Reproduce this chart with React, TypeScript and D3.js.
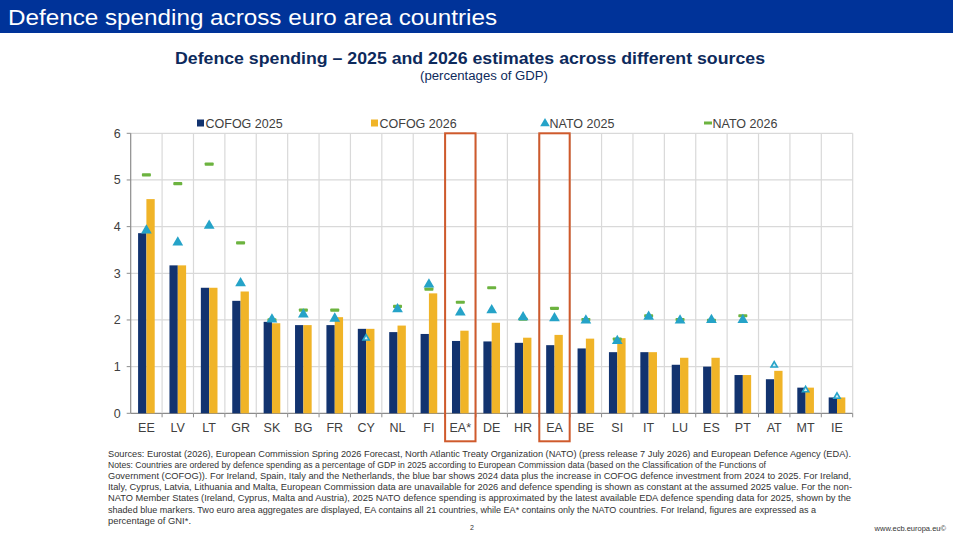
import * as d3 from "d3";
import { useEffect, useRef } from "react";

const countries = ["EE", "LV", "LT", "GR", "SK", "BG", "FR", "CY", "NL", "FI", "EA*", "DE", "HR", "EA", "BE", "SI", "IT", "LU", "ES", "PT", "AT", "MT", "IE"];
const cofog2025 = [3.86, 3.17, 2.69, 2.41, 1.96, 1.89, 1.89, 1.81, 1.74, 1.7, 1.55, 1.54, 1.51, 1.46, 1.39, 1.31, 1.31, 1.04, 1.0, 0.82, 0.73, 0.55, 0.34];
const cofog2026 = [4.59, 3.17, 2.69, 2.61, 1.93, 1.89, 2.06, 1.81, 1.88, 2.57, 1.77, 1.94, 1.62, 1.68, 1.6, 1.61, 1.31, 1.19, 1.19, 0.82, 0.91, 0.55, 0.34];
const nato2025 = [3.92, 3.66, 4.02, 2.79, 2.01, 2.12, 2.03, 1.61, 2.23, 2.76, 2.16, 2.21, 2.06, 2.04, 1.99, 1.55, 2.07, 1.99, 2.0, 2.0, 1.03, 0.5, 0.36];
const nato2026: (number | null)[] = [5.11, 4.92, 5.34, 3.65, 2.0, 2.21, 2.21, null, 2.29, 2.66, 2.38, 2.69, 2.02, 2.25, 2.01, 1.59, 2.09, 2.01, 1.99, 2.09, null, null, null];
// non-NATO member states, EDA approximation shown with shaded markers
const edaProxy = ["CY", "AT", "MT", "IE"];
const highlighted = ["EA*", "EA"];
const yTicks = [0, 1, 2, 3, 4, 5, 6];

const legendItems = [
  { label: "COFOG 2025", kind: "bar25", x: 197 },
  { label: "COFOG 2026", kind: "bar26", x: 371 },
  { label: "NATO 2025", kind: "tri", x: 541 },
  { label: "NATO 2026", kind: "dash", x: 704 },
];

const notes = [
  { text: "Sources: Eurostat (2026), European Commission Spring 2026 Forecast, North Atlantic Treaty Organization (NATO) (press release 7 July 2026) and European Defence Agency (EDA).", w: 743 },
  { text: "Notes: Countries are ordered by defence spending as a percentage of GDP in 2025 according to European Commission data (based on the Classification of the Functions of", w: 658 },
  { text: "Government (COFOG)). For Ireland, Spain, Italy and the Netherlands, the blue bar shows 2024 data plus the increase in COFOG defence investment from 2024 to 2025. For Ireland,", w: 743 },
  { text: "Italy, Cyprus, Latvia, Lithuania and Malta, European Commission data are unavailable for 2026 and defence spending is shown as constant at the assumed 2025 value. For the non-", w: 744 },
  { text: "NATO Member States (Ireland, Cyprus, Malta and Austria), 2025 NATO defence spending is approximated by the latest available EDA defence spending data for 2025, shown by the", w: 743 },
  { text: "shaded blue markers. Two euro area aggregates are displayed, EA contains all 21 countries, while EA* contains only the NATO countries. For Ireland, figures are expressed as a", w: 708 },
  { text: "percentage of GNI*.", w: 83 },
];

const NAVY = "#12336f";
const GOLD = "#f0b428";
const CYAN = "#25a3c8";
const GREEN = "#6cb33f";
const FONT = "Arial, 'Liberation Sans', sans-serif";

export default function App() {
  const ref = useRef<SVGSVGElement | null>(null);
  useEffect(() => {
    if (!ref.current) return;
    const svg = d3.select(ref.current);
    svg.selectAll("*").remove();
    const W = 953;
    const H = 538;
    const left = 130.7;
    const right = 852.7;
    const top = 133.3;
    const bottom = 413.3;

    svg.append("rect").attr("width", W).attr("height", H).attr("fill", "#fff");
    // header band
    svg.append("rect").attr("width", W).attr("height", 33).attr("fill", "#003399");
    svg.append("text").attr("x", 8).attr("y", 25).attr("fill", "#fff").attr("font-size", 22).attr("font-family", FONT)
      .attr("textLength", 489).attr("lengthAdjust", "spacingAndGlyphs").text("Defence spending across euro area countries");

    svg.append("text").attr("x", 470).attr("y", 64).attr("text-anchor", "middle").attr("fill", "#0d2a5c").attr("font-size", 17)
      .attr("font-weight", "bold").attr("font-family", FONT).attr("textLength", 590).attr("lengthAdjust", "spacingAndGlyphs")
      .text("Defence spending – 2025 and 2026 estimates across different sources");
    svg.append("text").attr("x", 484).attr("y", 80).attr("text-anchor", "middle").attr("fill", "#0d2a5c").attr("font-size", 12)
      .attr("font-family", FONT).attr("textLength", 128).attr("lengthAdjust", "spacingAndGlyphs").text("(percentages of GDP)");

    const x = d3.scaleBand<string>().domain(countries).range([left, right]).padding(0);
    const y = d3.scaleLinear().domain([0, 6]).range([bottom, top]);
    const groupW = x.bandwidth() * 0.53;
    const inner = d3.scaleBand<string>().domain(["c25", "c26"]).range([0, groupW]);
    const off = (x.bandwidth() - groupW) / 2;

    const grid = svg.append("g");
    yTicks.forEach((t) => {
      grid.append("line").attr("x1", left).attr("x2", right).attr("y1", y(t)).attr("y2", y(t))
        .attr("stroke", t === 0 ? "#8c8c8c" : "#d9d9d9").attr("stroke-width", 1.2);
      grid.append("line").attr("x1", left - 4).attr("x2", left).attr("y1", y(t)).attr("y2", y(t)).attr("stroke", "#8c8c8c");
      grid.append("text").attr("x", left - 10).attr("y", y(t) + 4.5).attr("text-anchor", "end").attr("font-size", 12.5)
        .attr("font-family", FONT).attr("fill", "#404040").text(t);
    });
    countries.forEach((c) => {
      const bx = (x(c) ?? 0) + x.bandwidth();
      grid.append("line").attr("x1", bx).attr("x2", bx).attr("y1", top).attr("y2", bottom).attr("stroke", "#d9d9d9").attr("stroke-width", 1.2);
      grid.append("line").attr("x1", bx).attr("x2", bx).attr("y1", bottom).attr("y2", bottom + 4).attr("stroke", "#8c8c8c");
      grid.append("text").attr("x", (x(c) ?? 0) + x.bandwidth() / 2).attr("y", bottom + 19).attr("text-anchor", "middle")
        .attr("font-size", 12.5).attr("font-family", FONT).attr("fill", "#404040").text(c);
    });
    grid.append("line").attr("x1", left).attr("x2", left).attr("y1", top).attr("y2", bottom).attr("stroke", "#8c8c8c").attr("stroke-width", 1.2);

    const bars = svg.append("g");
    countries.forEach((c, i) => {
      const gx = (x(c) ?? 0) + off;
      bars.append("rect").attr("x", gx + (inner("c25") ?? 0)).attr("y", y(cofog2025[i])).attr("width", inner.bandwidth())
        .attr("height", y(0) - y(cofog2025[i])).attr("fill", NAVY);
      bars.append("rect").attr("x", gx + (inner("c26") ?? 0)).attr("y", y(cofog2026[i])).attr("width", inner.bandwidth())
        .attr("height", y(0) - y(cofog2026[i])).attr("fill", GOLD);
    });

    const marks = svg.append("g");
    const tri = d3.symbol(d3.symbolTriangle, 50);
    const triSmall = d3.symbol(d3.symbolTriangle, 17);
    countries.forEach((c, i) => {
      const cx = (x(c) ?? 0) + x.bandwidth() / 2;
      const v26 = nato2026[i];
      if (v26 !== null) {
        marks.append("rect").attr("x", cx - 4.5).attr("y", y(v26) - 1.6).attr("width", 9).attr("height", 3.2).attr("rx", 0.8).attr("fill", GREEN);
      }
      const proxy = edaProxy.includes(c);
      marks.append("path").attr("d", (proxy ? triSmall() : tri()) ?? "")
        .attr("transform", `translate(${cx},${y(nato2025[i])})`)
        .attr("fill", proxy ? "#d6eef6" : CYAN).attr("stroke", proxy ? CYAN : "none").attr("stroke-width", proxy ? 1.6 : 0);
    });

    highlighted.forEach((c) => {
      svg.append("rect").attr("x", (x(c) ?? 0) + 0.5).attr("y", top).attr("width", x.bandwidth() - 1).attr("height", 308)
        .attr("fill", "none").attr("stroke", "#cf5a2c").attr("stroke-width", 2);
    });

    const lg = svg.append("g");
    legendItems.forEach((it) => {
      if (it.kind === "bar25" || it.kind === "bar26") {
        lg.append("rect").attr("x", it.x).attr("y", 119.5).attr("width", 7).attr("height", 7).attr("fill", it.kind === "bar25" ? NAVY : GOLD);
      } else if (it.kind === "tri") {
        lg.append("path").attr("d", d3.symbol(d3.symbolTriangle, 40)() ?? "").attr("transform", `translate(${it.x + 4},${123.5})`).attr("fill", CYAN);
      } else {
        lg.append("rect").attr("x", it.x).attr("y", 121.5).attr("width", 8).attr("height", 3).attr("fill", GREEN);
      }
      lg.append("text").attr("x", it.x + 8.5).attr("y", 128).attr("font-size", 12.5).attr("font-family", FONT).attr("fill", "#404040").text(it.label);
    });

    const nt = svg.append("g");
    notes.forEach((n, i) => {
      nt.append("text").attr("x", 108).attr("y", 456.5 + i * 11.2).attr("font-size", 8.6).attr("font-family", FONT).attr("fill", "#333")
        .attr("textLength", n.w).attr("lengthAdjust", "spacingAndGlyphs").text(n.text);
    });
    svg.append("text").attr("x", 472).attr("y", 530).attr("text-anchor", "middle").attr("font-size", 7).attr("font-family", FONT).attr("fill", "#333").text("2");
    svg.append("text").attr("x", 946).attr("y", 531).attr("text-anchor", "end").attr("font-size", 7.5).attr("font-family", FONT).attr("fill", "#333").text("www.ecb.europa.eu©");
  }, []);
  return <svg ref={ref} width={953} height={538} viewBox="0 0 953 538" style={{ position: "absolute", left: 0, top: 0 }} />;
}
